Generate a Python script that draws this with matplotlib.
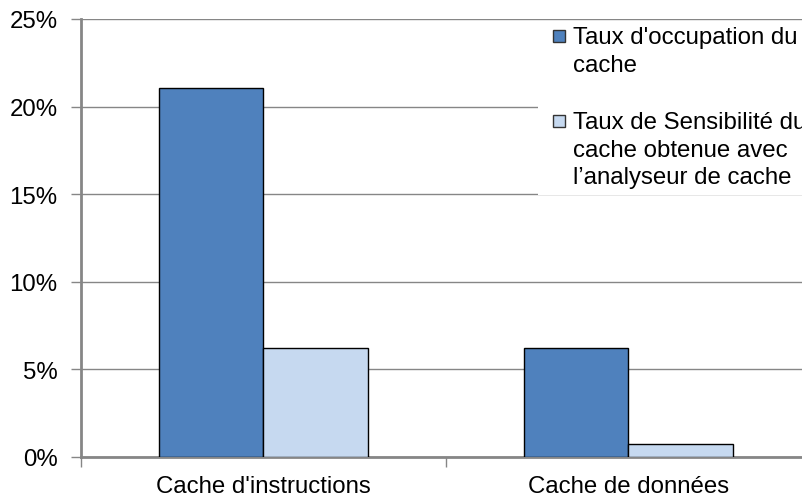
import numpy as np
import matplotlib
matplotlib.use("Agg")
import matplotlib.pyplot as plt
from matplotlib.patches import Rectangle
from matplotlib.ticker import FuncFormatter

plt.rcParams["font.family"] = ["Liberation Sans", "DejaVu Sans"]

categories = ["Cache d'instructions", "Cache de données"]
occupation = [21.07, 6.22]      # % taux d'occupation du cache
sensibilite = [6.25, 0.76]      # % taux de sensibilité (analyseur de cache)
series_labels = ["Taux d'occupation du\ncache",
                 "Taux de Sensibilité du\ncache obtenue avec\nl\u2019analyseur de cache"]
yticks = [0, 5, 10, 15, 20, 25]

COLORS = ["#4F81BD", "#C6D9F0"]
GRID = "#868686"
FS = 17.3

W, H = 803, 502
fig = plt.figure(figsize=(W / 100, H / 100), dpi=100)
# axes run past the right edge of the figure, as in the original export
ax = fig.add_axes([81 / W, 44 / H, 730 / W, 438 / H])

x = np.arange(len(categories))
bw = 0.285
ax.bar(x - bw / 2, occupation, bw, color=COLORS[0], edgecolor="black", lw=1, zorder=3)
ax.bar(x + bw / 2, sensibilite, bw, color=COLORS[1], edgecolor="black", lw=1, zorder=3)

ax.set_xlim(-0.5, 1.5)
ax.set_ylim(0, 25)
ax.set_yticks(yticks)
ax.yaxis.set_major_formatter(FuncFormatter(lambda v, _: f"{v:.0f}%"))
ax.grid(axis="y", color=GRID, lw=1, zorder=0)
ax.set_axisbelow(True)

# category boundaries carry the x ticks, labels sit at the centres
ax.set_xticks([-0.5, 0.5, 1.5])
ax.set_xticklabels([])
ax.set_xticks(x, minor=True)
ax.set_xticklabels(categories, minor=True)
ax.tick_params(axis="x", which="minor", length=0, pad=13, labelsize=FS)
ax.tick_params(axis="x", which="major", length=7, color=GRID, width=1)
ax.tick_params(axis="y", length=7, color=GRID, width=1, pad=10, labelsize=FS)

for side in ["top", "right"]:
    ax.spines[side].set_visible(False)
for side in ["left", "bottom"]:
    ax.spines[side].set_color(GRID)
    ax.spines[side].set_linewidth(2)

# legend: white panel over the gridlines, swatch aligned to the first line
def px(xp, yp):
    return xp / W, 1 - yp / H

fig.patches.append(Rectangle(px(538, 196), (W - 538) / W, 174 / H,
                             transform=fig.transFigure, facecolor="white",
                             edgecolor="none", zorder=2))
for i, (label, y0) in enumerate(zip(series_labels, [37, 122])):
    fig.patches.append(Rectangle(px(553, y0 + 6), 12 / W, 12 / H,
                                 transform=fig.transFigure, facecolor=COLORS[i],
                                 edgecolor="#333333", lw=1, zorder=3))
    fig.text(*px(573, y0 - 10), label, fontsize=FS, va="top", ha="left",
             linespacing=1.33, zorder=4)

fig.savefig("out.png", dpi=100)
